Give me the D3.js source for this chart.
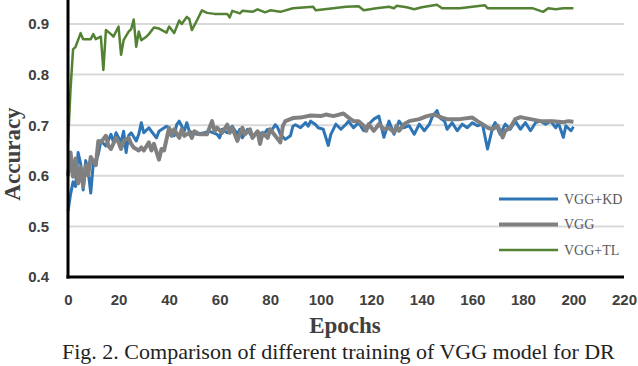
<!DOCTYPE html>
<html>
<head>
<meta charset="utf-8">
<script src="https://cdn.jsdelivr.net/npm/d3@7"></script>
<style>
  body { margin: 0; background: #fff; }
  svg { display: block; font-family: "Times New Roman", "Liberation Serif", serif; }
  .tick text { font-weight: bold; fill: #404040; }
</style>
</head>
<body>
<div id="container"></div>
<script>

// data : [epoch, accuracy]
var kdData = [[0,0.53],[1,0.563],[2,0.588],[3,0.579],[4,0.646],[5,0.624],[6,0.572],[7,0.63],[8,0.608],[9,0.566],
  [10,0.624],[11,0.627],[12,0.643],[13,0.669],[15,0.659],[17,0.682],[18,0.666],[19,0.685],[21,0.666],[22,0.688],
  [23,0.646],[24,0.679],[25,0.685],[27,0.669],[28,0.682],[29,0.705],[30,0.685],[32,0.695],[33,0.688],[35,0.675],
  [36,0.688],[39,0.698],[40,0.695],[42,0.679],[43,0.701],[44,0.708],[46,0.688],[47,0.705],[48,0.688],[51,0.682],
  [54,0.685],[56,0.688],[59,0.682],[60,0.675],[61,0.692],[63,0.685],[65,0.698],[67,0.682],[68,0.692],[69,0.675],
  [71,0.692],[73,0.675],[75,0.688],[77,0.679],[79,0.692],[80,0.685],[82,0.701],[83,0.695],[84,0.682],[86,0.672],
  [88,0.679],[89,0.698],[90,0.701],[92,0.695],[94,0.705],[95,0.698],[96,0.708],[98,0.701],[99,0.695],[101,0.692],
  [103,0.66],[104,0.682],[106,0.702],[108,0.692],[110,0.702],[111,0.708],[113,0.695],[115,0.705],[117,0.689],[119,0.702],
  [121,0.712],[123,0.718],[125,0.676],[127,0.708],[129,0.682],[131,0.708],[133,0.695],[135,0.699],[137,0.682],[139,0.702],
  [141,0.689],[143,0.702],[144,0.715],[146,0.729],[147,0.715],[149,0.708],[150,0.692],[152,0.705],[154,0.689],[156,0.702],
  [158,0.695],[160,0.705],[162,0.699],[164,0.702],[166,0.653],[168,0.695],[169,0.705],[171,0.682],[173,0.702],[175,0.692],
  [177,0.708],[179,0.692],[181,0.705],[183,0.689],[185,0.705],[187,0.708],[189,0.702],[191,0.708],[193,0.695],[194,0.705],
  [196,0.676],[197,0.699],[199,0.689],[200,0.697]];

var vggData = [[0,0.6],[1,0.646],[2,0.598],[3,0.634],[4,0.585],[5,0.617],[6,0.579],[7,0.621],[8,0.601],[9,0.637],
  [11,0.621],[12,0.669],[13,0.666],[15,0.679],[16,0.659],[17,0.653],[19,0.675],[20,0.666],[21,0.653],[22,0.669],
  [24,0.675],[25,0.663],[26,0.656],[28,0.65],[29,0.656],[30,0.65],[32,0.666],[33,0.65],[34,0.663],[36,0.632],
  [37,0.653],[38,0.65],[40,0.695],[41,0.679],[42,0.692],[44,0.675],[45,0.692],[46,0.679],[48,0.685],[49,0.675],
  [50,0.688],[52,0.682],[55,0.682],[57,0.708],[58,0.688],[59,0.695],[61,0.685],[63,0.701],[64,0.685],[65,0.695],
  [67,0.669],[69,0.695],[70,0.682],[72,0.692],[73,0.675],[75,0.688],[76,0.663],[77,0.685],[79,0.675],[80,0.692],
  [82,0.679],[84,0.666],[85,0.698],[86,0.708],[89,0.714],[92,0.715],[96,0.719],[100,0.718],[102,0.721],[105,0.718],
  [109,0.723],[111,0.715],[113,0.708],[115,0.708],[117,0.699],[118,0.689],[119,0.702],[121,0.689],[122,0.695],[123,0.702],
  [125,0.692],[127,0.695],[129,0.686],[130,0.699],[131,0.689],[133,0.702],[135,0.708],[139,0.712],[142,0.718],[145,0.721],
  [148,0.715],[150,0.712],[155,0.712],[160,0.715],[162,0.708],[164,0.702],[166,0.695],[168,0.692],[170,0.699],[172,0.676],
  [173,0.689],[175,0.695],[177,0.712],[179,0.716],[183,0.712],[187,0.708],[192,0.708],[196,0.706],[198,0.708],[200,0.707]];

var tlData = [[0,0.665],[1,0.77],[2,0.85],[3,0.855],[5,0.882],[6,0.87],[7,0.87],[9,0.87],[10,0.88],[11,0.87],
  [13,0.875],[14,0.809],[15,0.888],[17,0.88],[18,0.875],[20,0.895],[21,0.839],[22,0.868],[24,0.885],[25,0.89],
  [26,0.909],[27,0.855],[28,0.885],[29,0.868],[31,0.875],[32,0.88],[34,0.893],[36,0.891],[39,0.883],[40,0.895],
  [42,0.882],[44,0.907],[45,0.9],[47,0.914],[48,0.91],[49,0.888],[51,0.907],[53,0.927],[55,0.922],[58,0.92],
  [63,0.92],[64,0.913],[65,0.926],[68,0.921],[69,0.926],[73,0.924],[75,0.929],[78,0.923],[80,0.927],[84,0.924],
  [89,0.931],[97,0.934],[98,0.927],[105,0.931],[110,0.934],[115,0.935],[117,0.927],[122,0.931],[127,0.934],[129,0.931],
  [130,0.936],[134,0.933],[137,0.929],[140,0.933],[146,0.938],[148,0.931],[155,0.931],[165,0.937],[166,0.931],[184,0.931],
  [188,0.924],[190,0.931],[193,0.929],[196,0.931],[200,0.931]];

var seriesNames = ['VGG+KD', 'VGG', 'VGG+TL'];
var xTicks = [0, 20, 40, 60, 80, 100, 120, 140, 160, 180, 200, 220];
var yTicks = [0.4, 0.5, 0.6, 0.7, 0.8, 0.9];

// parameters
var width = 638,
    height = 366,
    left = 68,
    right = 624,
    bottom = 277;

var colors = ['#2E75B6', '#808080', '#548235'],
    strokes = [3, 4, 2.5];

var x = d3.scaleLinear().domain([0, 220]).range([left, right]);
var y = d3.scaleLinear().domain([0.4, 0.9]).range([bottom, 24]);

var svg = d3.select('#container')
    .append('svg')
    .attr('width', width)
    .attr('height', height);

// grid
svg.append('g').selectAll('line')
    .data(yTicks.slice(1))
    .enter()
    .append('line')
    .attr('x1', left)
    .attr('x2', right)
    .attr('y1', function (d) { return y(d) })
    .attr('y2', function (d) { return y(d) })
    .attr('stroke', '#D9D9D9')
    .attr('stroke-width', 2);

// tick labels
var yAxis = svg.append('g')
    .attr('transform', 'translate(' + (left - 16) + ',0)')
    .call(d3.axisLeft(y).tickValues(yTicks).tickSize(0).tickFormat(d3.format('.1f')));
yAxis.select('.domain').remove();
yAxis.selectAll('text').style('font-size', '15px');

var xAxis = svg.append('g')
    .attr('transform', 'translate(0,' + (bottom + 14) + ')')
    .call(d3.axisBottom(x).tickValues(xTicks).tickSize(0));
xAxis.select('.domain').remove();
xAxis.selectAll('text').style('font-size', '15px');

// lines
var line = d3.line()
    .x(function (d) { return x(d[0]) })
    .y(function (d) { return y(d[1]) });

var allData = [kdData, vggData, tlData];

svg.append('g').selectAll('path')
    .data(allData)
    .enter()
    .append('path')
    .attr('d', line)
    .attr('fill', 'none')
    .attr('stroke', function (d, i) { return colors[i] })
    .attr('stroke-width', function (d, i) { return strokes[i] })
    .attr('stroke-linejoin', 'round');

// axes lines
svg.append('line')
    .attr('x1', left).attr('x2', left)
    .attr('y1', 0).attr('y2', bottom + 1.5)
    .attr('stroke', 'black').attr('stroke-width', 3);
svg.append('line')
    .attr('x1', left - 1.5).attr('x2', right)
    .attr('y1', bottom).attr('y2', bottom)
    .attr('stroke', 'black').attr('stroke-width', 3);

// legend
var legend = svg.append('g').selectAll('g')
    .data(seriesNames)
    .enter()
    .append('g')
    .attr('transform', function (d, i) { return 'translate(499,' + (199 + i * 25.5) + ')' });

legend.append('line')
    .attr('x1', 0).attr('x2', 59)
    .attr('stroke', function (d, i) { return colors[i] })
    .attr('stroke-width', function (d, i) { return strokes[i] });

legend.append('text')
    .attr('x', 65)
    .attr('dy', '0.35em')
    .style('font-size', '14px')
    .attr('fill', '#595959')
    .text(function (d) { return d });

// titles
svg.append('text')
    .attr('transform', 'translate(20,154) rotate(-90)')
    .attr('text-anchor', 'middle')
    .style('font-size', '23px')
    .style('font-weight', 'bold')
    .attr('fill', '#404040')
    .text('Accuracy');

svg.append('text')
    .attr('x', 345)
    .attr('y', 333)
    .attr('text-anchor', 'middle')
    .style('font-size', '23px')
    .style('font-weight', 'bold')
    .attr('fill', '#404040')
    .text('Epochs');

svg.append('text')
    .attr('x', 62)
    .attr('y', 359)
    .style('font-size', '22px')
    .attr('fill', '#222')
    .text('Fig. 2. Comparison of different training of VGG model for DR');

</script>
</body>
</html>
